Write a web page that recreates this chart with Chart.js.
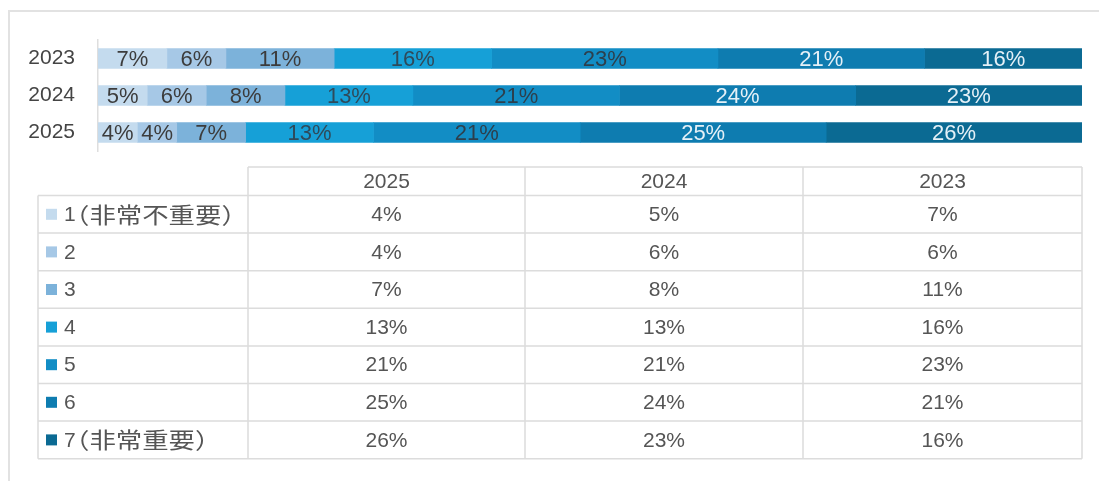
<!DOCTYPE html>
<html>
<head>
<meta charset="utf-8">
<script src="https://cdn.jsdelivr.net/npm/chart.js@4"></script>
<style>
html,body{margin:0;padding:0;background:#fff;}
#wrap{position:relative;width:1099px;height:481px;}
</style>
</head>
<body>
<div id="wrap"><canvas id="c" width="1099" height="481"></canvas></div>
<script>
// ---- data ----
const years = ['2023', '2024', '2025'];           // bar order, top to bottom
const tableYears = ['2025', '2024', '2023'];      // table column order
const levels = ['1（非常不重要）', '2', '3', '4', '5', '6', '7（非常重要）'];
const level1 = [7, 5, 4];
const level2 = [6, 6, 4];
const level3 = [11, 8, 7];
const level4 = [16, 13, 13];
const level5 = [23, 21, 21];
const level6 = [21, 24, 25];
const level7 = [16, 23, 26];
const seriesValues = [level1, level2, level3, level4, level5, level6, level7];

const colors = ['#c4dbee', '#a6c8e6', '#7cb2da', '#16a0d7', '#128dc5', '#0e7cb0', '#0b6a93'];
const labelColors = ['#3c3c3c', '#3c3c3c', '#3c3c3c', '#2f4a5a', '#2d3f4c', '#e4f0f7', '#e4f0f7'];

const FONT = '"Liberation Sans", Arial, "Noto Sans CJK SC", sans-serif';
const CJK = '"Noto Sans CJK SC", sans-serif';

const datasets = levels.map((name, i) => ({
  label: name,
  data: seriesValues[i],
  backgroundColor: colors[i],
  borderWidth: 0,
  barThickness: 20
}));

const decor = {
  id: 'decor',
  beforeDraw(chart) {
    const ctx = chart.ctx;
    ctx.save();
    ctx.strokeStyle = '#e2e2e2';
    ctx.lineWidth = 2;
    ctx.beginPath();
    ctx.moveTo(9, 481); ctx.lineTo(9, 11); ctx.lineTo(1099, 11);
    ctx.stroke();
    ctx.restore();
  },
  afterDatasetsDraw(chart) {
    const ctx = chart.ctx;
    ctx.save();
    ctx.font = '22px ' + FONT;
    ctx.textAlign = 'center';
    ctx.textBaseline = 'middle';
    chart.data.datasets.forEach((ds, i) => {
      const meta = chart.getDatasetMeta(i);
      meta.data.forEach((el, j) => {
        const cx = (el.x + el.base) / 2;
        ctx.fillStyle = labelColors[i];
        ctx.fillText(ds.data[j] + '%', cx, el.y + 1);
      });
    });
    ctx.restore();
  },
  afterDraw(chart) {
    const ctx = chart.ctx;
    const L = 38, LR = 248, R = 1082;
    const colX = [248, 525, 803, 1082];
    const headTop = 167, headBot = 195.5, rowH = 37.6;
    const nRows = chart.data.datasets.length;
    const bottom = headBot + rowH * nRows;
    ctx.save();
    ctx.strokeStyle = '#dcdcdc';
    ctx.lineWidth = 1.5;
    ctx.beginPath();
    ctx.moveTo(LR, headTop); ctx.lineTo(R, headTop);
    for (let r = 0; r <= nRows; r++) {
      const y = headBot + rowH * r;
      ctx.moveTo(L, y); ctx.lineTo(R, y);
    }
    ctx.moveTo(L, headBot); ctx.lineTo(L, bottom);
    colX.forEach(x => { ctx.moveTo(x, headTop); ctx.lineTo(x, bottom); });
    ctx.stroke();

    ctx.textBaseline = 'middle';
    ctx.fillStyle = '#555';
    ctx.textAlign = 'center';
    ctx.font = '21px ' + FONT;
    tableYears.forEach((yr, c) => {
      ctx.fillText(yr, (colX[c] + colX[c + 1]) / 2, (headTop + headBot) / 2 + 1);
    });
    chart.data.datasets.forEach((ds, r) => {
      const cy = headBot + rowH * r + rowH / 2;
      ctx.fillStyle = ds.backgroundColor;
      ctx.fillRect(46, cy - 5.5, 11, 11);
      ctx.fillStyle = '#555';
      ctx.textAlign = 'left';
      const num = ds.label.charAt(0);
      const rest = ds.label.slice(1);
      ctx.font = '21px ' + FONT;
      ctx.fillText(num, 64, cy + 1);
      if (rest) {
        ctx.save();
        ctx.translate(63, cy);
        ctx.scale(1.2, 1);
        ctx.font = '22px ' + CJK;
        ctx.fillText(rest, 0, 0);
        ctx.restore();
      }
      ctx.textAlign = 'center';
      ctx.font = '21px ' + FONT;
      tableYears.forEach((yr, c) => {
        const v = ds.data[years.indexOf(yr)];
        ctx.fillText(v + '%', (colX[c] + colX[c + 1]) / 2, cy + 1);
      });
    });
    ctx.restore();
  }
};

new Chart(document.getElementById('c'), {
  type: 'bar',
  data: { labels: years, datasets },
  options: {
    indexAxis: 'y',
    responsive: false,
    animation: false,
    layout: { padding: { left: 0, right: 17, top: 40, bottom: 330 } },
    plugins: { legend: { display: false }, tooltip: { enabled: false } },
    scales: {
      x: { stacked: true, min: 0, max: 100, display: false },
      y: {
        stacked: true,
        grid: { display: false },
        border: { display: true, color: '#dedede', width: 1.5 },
        ticks: { color: '#444', font: { size: 21, family: FONT }, padding: 15 },
        afterFit(scale) { scale.width = 98; }
      }
    }
  },
  plugins: [decor]
});
</script>
</body>
</html>
